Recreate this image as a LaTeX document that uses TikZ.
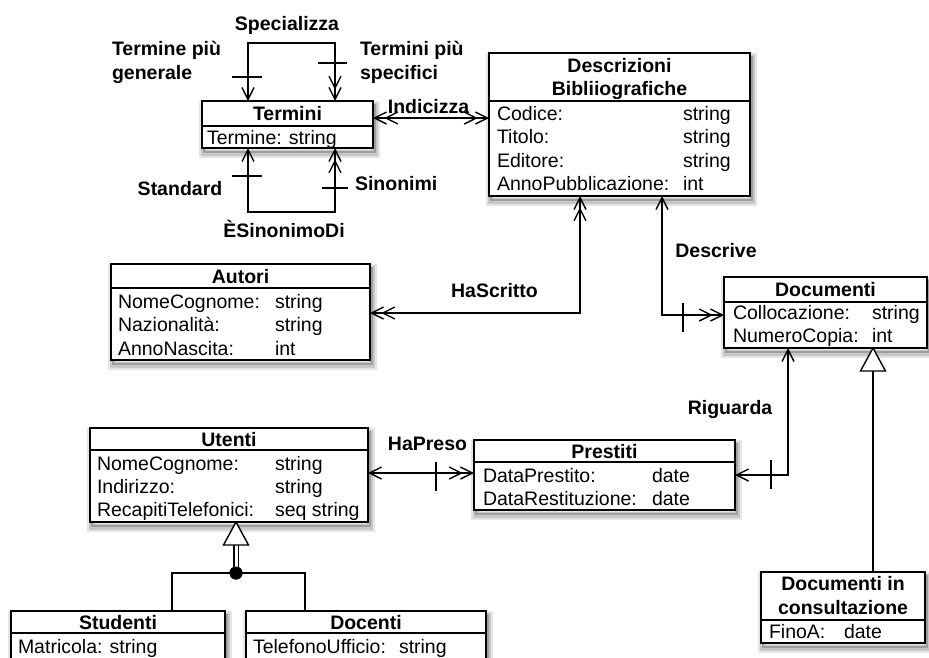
\documentclass[tikz,border=0pt]{standalone}
\usepackage{fontspec}
\setmainfont{Liberation Sans}
\usetikzlibrary{arrows.meta}
\newcommand\clsbox[6]{%
  \node[cls, minimum width={#4-#2}, minimum height={#5-#3}] (#1) at ({(#2+#4)/2},{(#3+#5)/2}) {};
  \coordinate (#1sep) at (0,#6);
  \draw[line width=1.4pt] (#1.west |- #1sep) -- (#1.east |- #1sep);
}
\begin{document}
\begin{tikzpicture}[x=1pt,y=-1pt,
  every node/.style={font=\fontsize{19.5}{23}\selectfont, inner sep=0pt, outer sep=0pt},
  cls/.style={draw, line width=1.4pt, fill=white, rectangle,
    preaction={draw=black!10, line width=10pt, transform canvas={xshift=2pt, yshift=-5pt}},
    preaction={draw=black!22, line width=6pt, transform canvas={xshift=2pt, yshift=-5pt}},
    preaction={draw=black!38, line width=2.5pt, transform canvas={xshift=2pt, yshift=-4pt}}},
  hd/.style={font=\fontsize{19.5}{23}\selectfont\bfseries, anchor=base},
  attr/.style={anchor=base west},
  lbl/.style={font=\fontsize{19.5}{23}\selectfont\bfseries, anchor=base},
  lbll/.style={font=\fontsize{19.5}{23}\selectfont\bfseries, anchor=base west},
  conn/.style={line width=1.4pt},
  sgl/.tip={Straight Barb[length=12pt,width=12pt]},
  dbl/.tip={Straight Barb[length=12pt,width=12pt,sep=-3pt]Straight Barb[length=12pt,width=12pt]},
]
\path[use as bounding box] (0,0) rectangle (929,657);

% ---------- classes ----------
\clsbox{termini}{202}{101}{373}{148}{126}
\node[hd] at (287.5,120.5) {Termini};
\node[attr] at (207,144) {Termine: string};

\clsbox{descr}{489}{53}{750}{196}{101}
\node[hd] at (619.5,72) {Descrizioni};
\node[hd] at (619.5,95) {Bibliiografiche};
\node[attr] at (497,120) {Codice:};
\node[attr] at (683,120) {string};
\node[attr] at (497,143.5) {Titolo:};
\node[attr] at (683,143.5) {string};
\node[attr] at (497,167) {Editore:};
\node[attr] at (683,167) {string};
\node[attr] at (497,190.5) {AnnoPubblicazione:};
\node[attr] at (683,190.5) {int};

\clsbox{autori}{111}{264}{370}{360}{288}
\node[hd] at (240.5,283) {Autori};
\node[attr] at (118,308) {NomeCognome:};
\node[attr] at (275,308) {string};
\node[attr] at (118,331.5) {Nazionalità:};
\node[attr] at (275,331.5) {string};
\node[attr] at (118,355) {AnnoNascita:};
\node[attr] at (275,355) {int};

\clsbox{documenti}{724}{277}{927}{348}{302}
\node[hd] at (825.5,296) {Documenti};
\node[attr] at (733,319) {Collocazione:};
\node[attr] at (872,319) {string};
\node[attr] at (733,342.5) {NumeroCopia:};
\node[attr] at (872,342.5) {int};

\clsbox{utenti}{90}{428}{368}{522}{450}
\node[hd] at (229,446) {Utenti};
\node[attr] at (97,470) {NomeCognome:};
\node[attr] at (275,470) {string};
\node[attr] at (97,493) {Indirizzo:};
\node[attr] at (275,493) {string};
\node[attr] at (97,516) {RecapitiTelefonici:};
\node[attr] at (275,516) {seq string};

\clsbox{prestiti}{474}{440}{735}{510}{462}
\node[hd] at (604.5,458) {Prestiti};
\node[attr] at (483,482) {DataPrestito:};
\node[attr] at (652,482) {date};
\node[attr] at (483,505) {DataRestituzione:};
\node[attr] at (652,505) {date};

\clsbox{studenti}{11}{611}{225}{690}{633}
\node[hd] at (118,629) {Studenti};
\node[attr] at (18,653) {Matricola: string};

\clsbox{docenti}{246}{611}{486}{690}{633}
\node[hd] at (366,629) {Docenti};
\node[attr] at (253,653) {TelefonoUfficio:};
\node[attr] at (399,653) {string};

\clsbox{docons}{761}{572}{925}{643}{620}
\node[hd] at (843,590) {Documenti in};
\node[hd] at (843,614) {consultazione};
\node[attr] at (769,638) {FinoA:};
\node[attr] at (844,638) {date};

% ---------- associations ----------
\coordinate (sp1) at (248,43);
\coordinate (sp2) at (335,43);
\draw[conn, sgl-dbl] (termini.north -| sp1) -- (sp1) -- (sp2) -- (termini.north -| sp2);
\draw[conn] (232,77) -- (262,77);
\draw[conn] (318,63) -- (347,63);

\coordinate (es1) at (248,212);
\coordinate (es2) at (335,212);
\draw[conn, sgl-dbl] (termini.south -| es1) -- (es1) -- (es2) -- (termini.south -| es2);
\draw[conn] (232,176) -- (262,176);
\draw[conn] (322,188) -- (348,188);

\coordinate (ix) at (0,118);
\draw[conn, dbl-dbl] (termini.east |- ix) -- (descr.west |- ix);

\coordinate (hs) at (580,313);
\draw[conn, dbl-dbl] (descr.south -| hs) -- (hs) -- (autori.east |- hs);

\coordinate (dv) at (662,315);
\draw[conn, sgl-dbl] (descr.south -| dv) -- (dv) -- (documenti.west |- dv);
\draw[conn] (683,303) -- (683,332);

\coordinate (rg) at (788,475);
\draw[conn, sgl-sgl] (documenti.south -| rg) -- (rg) -- (prestiti.east |- rg);
\draw[conn] (771,460) -- (771,489);

\coordinate (hp) at (0,473);
\draw[conn, sgl-dbl] (utenti.east |- hp) -- (prestiti.west |- hp);
\draw[conn] (436,462) -- (436,491);

% ---------- generalizations ----------
\coordinate (gd) at (873,0);
\draw[conn] (documenti.south -| gd) ++(0,23) -- (docons.north -| gd);
\draw[conn, fill=white] (documenti.south -| gd) -- ++(-12.5,23) -- ++(25,0) -- cycle;

\coordinate (gu) at (236,0);
\node[circle, fill=black, minimum size=13pt] (gdot) at (236,573) {};
\draw[conn] (studenti.north -| 172,0) -- (172,573) -- (305,573) -- (docenti.north -| 305,0);
\draw[line width=1.3pt, double, double distance=3pt] (utenti.south -| gu) ++(0,23) -- (gdot.center);
\node[circle, fill=black, minimum size=13pt] at (gdot) {};
\draw[conn, fill=white] (utenti.south -| gu) -- ++(-12.5,23) -- ++(25,0) -- cycle;

% ---------- labels ----------
\node[lbl] at (287,30) {Specializza};
\node[lbll] at (112,55) {Termine più};
\node[lbll] at (112,79) {generale};
\node[lbll] at (360,55) {Termini più};
\node[lbll] at (360,79) {specifici};
\node[lbl] at (180,195) {Standard};
\node[lbll] at (355,190) {Sinonimi};
\node[lbl] at (284,237) {ÈSinonimoDi};
\node[lbl] at (428.5,113) {Indicizza};
\node[lbl] at (494.5,297) {HaScritto};
\node[lbl] at (716,257) {Descrive};
\node[lbl] at (730,414) {Riguarda};
\node[lbl] at (427.5,450) {HaPreso};
\end{tikzpicture}
\end{document}
